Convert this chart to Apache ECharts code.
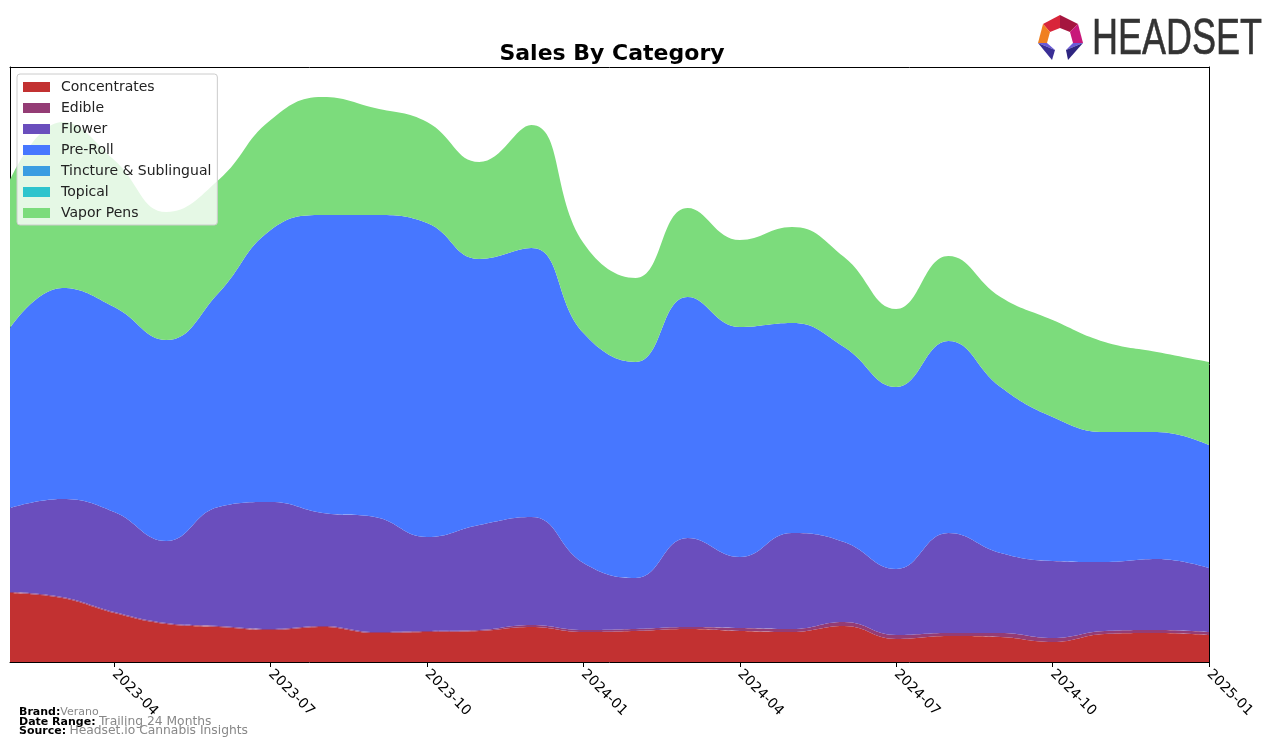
<!DOCTYPE html>
<html>
<head>
<meta charset="utf-8">
<script src="https://cdn.jsdelivr.net/npm/echarts@6/dist/echarts.min.js"></script>
<style>
html,body{margin:0;padding:0;background:#fff;}
#chart{width:1276px;height:748px;}
</style>
</head>
<body>
<div id="chart"></div>
<script>
// Months (Feb 2023 .. Jan 2025)
var months = ['2023-02','2023-03','2023-04','2023-05','2023-06','2023-07','2023-08','2023-09','2023-10','2023-11','2023-12','2024-01',
              '2024-02','2024-03','2024-04','2024-05','2024-06','2024-07','2024-08','2024-09','2024-10','2024-11','2024-12','2025-01'];
var tickLabels = ['2023-04','2023-07','2023-10','2024-01','2024-04','2024-07','2024-10','2025-01'];

var concentrates = [69,64,49,38,35,32,35,29,30,31,35,30,31,33,31,30,36,23,26,25,20,28,29,27];
var edible       = [1,1,1,1,1,1,1,1,1,1,2,2,2,2,3,3,4,4,3,4,4,3,3,3];
var flower       = [84,98,100,82,119,127,113,115,94,105,108,67,51,89,71,96,80,66,100,80,77,69,71,64];
var preRoll      = [180,211,205,201,214,272,298,302,314,266,269,230,216,241,230,210,195,182,192,166,144,130,127,123];
var tincture     = [0,0,0,0,0,0,0,0,0,0,0,0,0,0,0,0,0,0,0,0,0,0,0,0];
var topical      = [0,0,0,0,0,0,0,0,0,0,0,0,0,0,0,0,0,0,0,0,0,0,0,0];
var vaporPens    = [148,166,147,128,113,110,118,107,101,97,123,90,84,89,87,96,90,78,85,90,97,90,80,83];

var seriesNames = ['Concentrates','Edible','Flower','Pre-Roll','Tincture & Sublingual','Topical','Vapor Pens'];
var seriesData  = [concentrates, edible, flower, preRoll, tincture, topical, vaporPens];
var colors      = ['#c23131','#943c75','#6a4ebd','#4777ff','#3b9de2','#2ec4cd','#7cdc7c'];

var FONT = 'DejaVu Sans';

var chart = echarts.init(document.getElementById('chart'), null, {renderer:'canvas'});

var series = seriesNames.map(function(n, i){
  return {
    name: n, type: 'line', stack: 'total', smooth: 0.45, symbol: 'none',
    data: seriesData[i],
    lineStyle: {width: 0, color: colors[i]},
    itemStyle: {color: colors[i]},
    areaStyle: {color: colors[i], opacity: 1},
    emphasis: {disabled: true}
  };
});

var isTick = function(idx){ return tickLabels.indexOf(months[idx]) >= 0; };

var option = {
  animation: false,
  backgroundColor: '#ffffff',
  title: {
    text: 'Sales By Category',
    left: 607, top: 38, textAlign: 'center',
    textStyle: {fontFamily: FONT, fontSize: 22, fontWeight: 'bold', color: '#000'}
  },
  legend: {
    orient: 'vertical', left: 17, top: 74,
    data: seriesNames,
    icon: 'rect', itemWidth: 27, itemHeight: 10, itemGap: 7,
    backgroundColor: 'rgba(255,255,255,0.8)',
    borderColor: '#cccccc', borderWidth: 1, borderRadius: 3,
    padding: [6, 6, 5, 6],
    textStyle: {fontFamily: FONT, fontSize: 14, color: '#222', lineHeight: 14, padding: [0,0,0,6]}
  },
  grid: {left: 10, right: 67, top: 67, bottom: 86, containLabel: false},
  xAxis: [{
    type: 'category', data: months, boundaryGap: false,
    axisLine: {show: true, onZero: false, lineStyle: {color: '#000', width: 1}},
    axisTick: {show: true, length: 5, lineStyle: {color: '#000'}, interval: function(i){ return isTick(i); }},
    axisLabel: {
      interval: function(i){ return isTick(i); },
      rotate: -45, margin: 10,
      fontFamily: FONT, fontSize: 14, color: '#000'
    },
    splitLine: {show: false}
  },{
    type: 'category', data: months, boundaryGap: false, position: 'top',
    axisLine: {show: true, onZero: false, lineStyle: {color: '#000', width: 1}},
    axisTick: {show: false}, axisLabel: {show: false}
  }],
  yAxis: [{
    type: 'value', min: 0, max: 595,
    axisLine: {show: true, onZero: false, lineStyle: {color: '#000', width: 1}},
    axisTick: {show: false}, axisLabel: {show: false}, splitLine: {show: false}
  },{
    type: 'value', min: 0, max: 595, position: 'right',
    axisLine: {show: true, onZero: false, lineStyle: {color: '#000', width: 1}},
    axisTick: {show: false}, axisLabel: {show: false}, splitLine: {show: false}
  }],
  series: series,
  graphic: [
    // footer
    {type: 'text', left: 19, top: 707, z: 50, style: {
      text: '{b|Brand:}{g|Verano}', rich: {
        b: {fontFamily: FONT, fontSize: 11, fontWeight: 'bold', fill: '#000'},
        g: {fontFamily: FONT, fontSize: 11, fill: '#888'}
      }}},
    {type: 'text', left: 19, top: 716, z: 50, style: {
      text: '{b|Date Range:} {g|Trailing 24 Months}', rich: {
        b: {fontFamily: FONT, fontSize: 11, fontWeight: 'bold', fill: '#000'},
        g: {fontFamily: FONT, fontSize: 12.3, fill: '#888'}
      }}},
    {type: 'text', left: 19, top: 725, z: 50, style: {
      text: '{b|Source:} {g|Headset.io Cannabis Insights}', rich: {
        b: {fontFamily: FONT, fontSize: 11, fontWeight: 'bold', fill: '#000'},
        g: {fontFamily: FONT, fontSize: 12.3, fill: '#888'}
      }}},
    // logo text
    {type: 'text', x: 1092, y: 15, z: 50, scaleX: 0.72, style: {
      text: 'HEADSET', fontFamily: 'Liberation Sans', fontSize: 50, fill: '#333333',
      stroke: '#333333', lineWidth: 0.6
    }},
    // logo icon
    {type: 'polygon', z: 50, shape: {points: [[1043,24],[1060,15],[1060,28],[1050,32]]}, style: {fill: '#d8263a'}},
    {type: 'polygon', z: 50, shape: {points: [[1060,15],[1078,24],[1070,32],[1060,28]]}, style: {fill: '#a5153f'}},
    {type: 'polygon', z: 50, shape: {points: [[1078,24],[1083,43],[1073,43],[1070,32]]}, style: {fill: '#c8187a'}},
    {type: 'polygon', z: 50, shape: {points: [[1043,24],[1050,32],[1047,43],[1038,43]]}, style: {fill: '#f08020'}},
    {type: 'polygon', z: 50, shape: {points: [[1038,43],[1047,43],[1055,50]]}, style: {fill: '#6a5ad8'}},
    {type: 'polygon', z: 50, shape: {points: [[1038,43],[1055,50],[1052,60]]}, style: {fill: '#3a2f96'}},
    {type: 'polygon', z: 50, shape: {points: [[1083,43],[1073,43],[1066,50]]}, style: {fill: '#6a5ad8'}},
    {type: 'polygon', z: 50, shape: {points: [[1083,43],[1066,50],[1068,60]]}, style: {fill: '#2e2580'}}
  ]
};
chart.setOption(option);
</script>
</body>
</html>
